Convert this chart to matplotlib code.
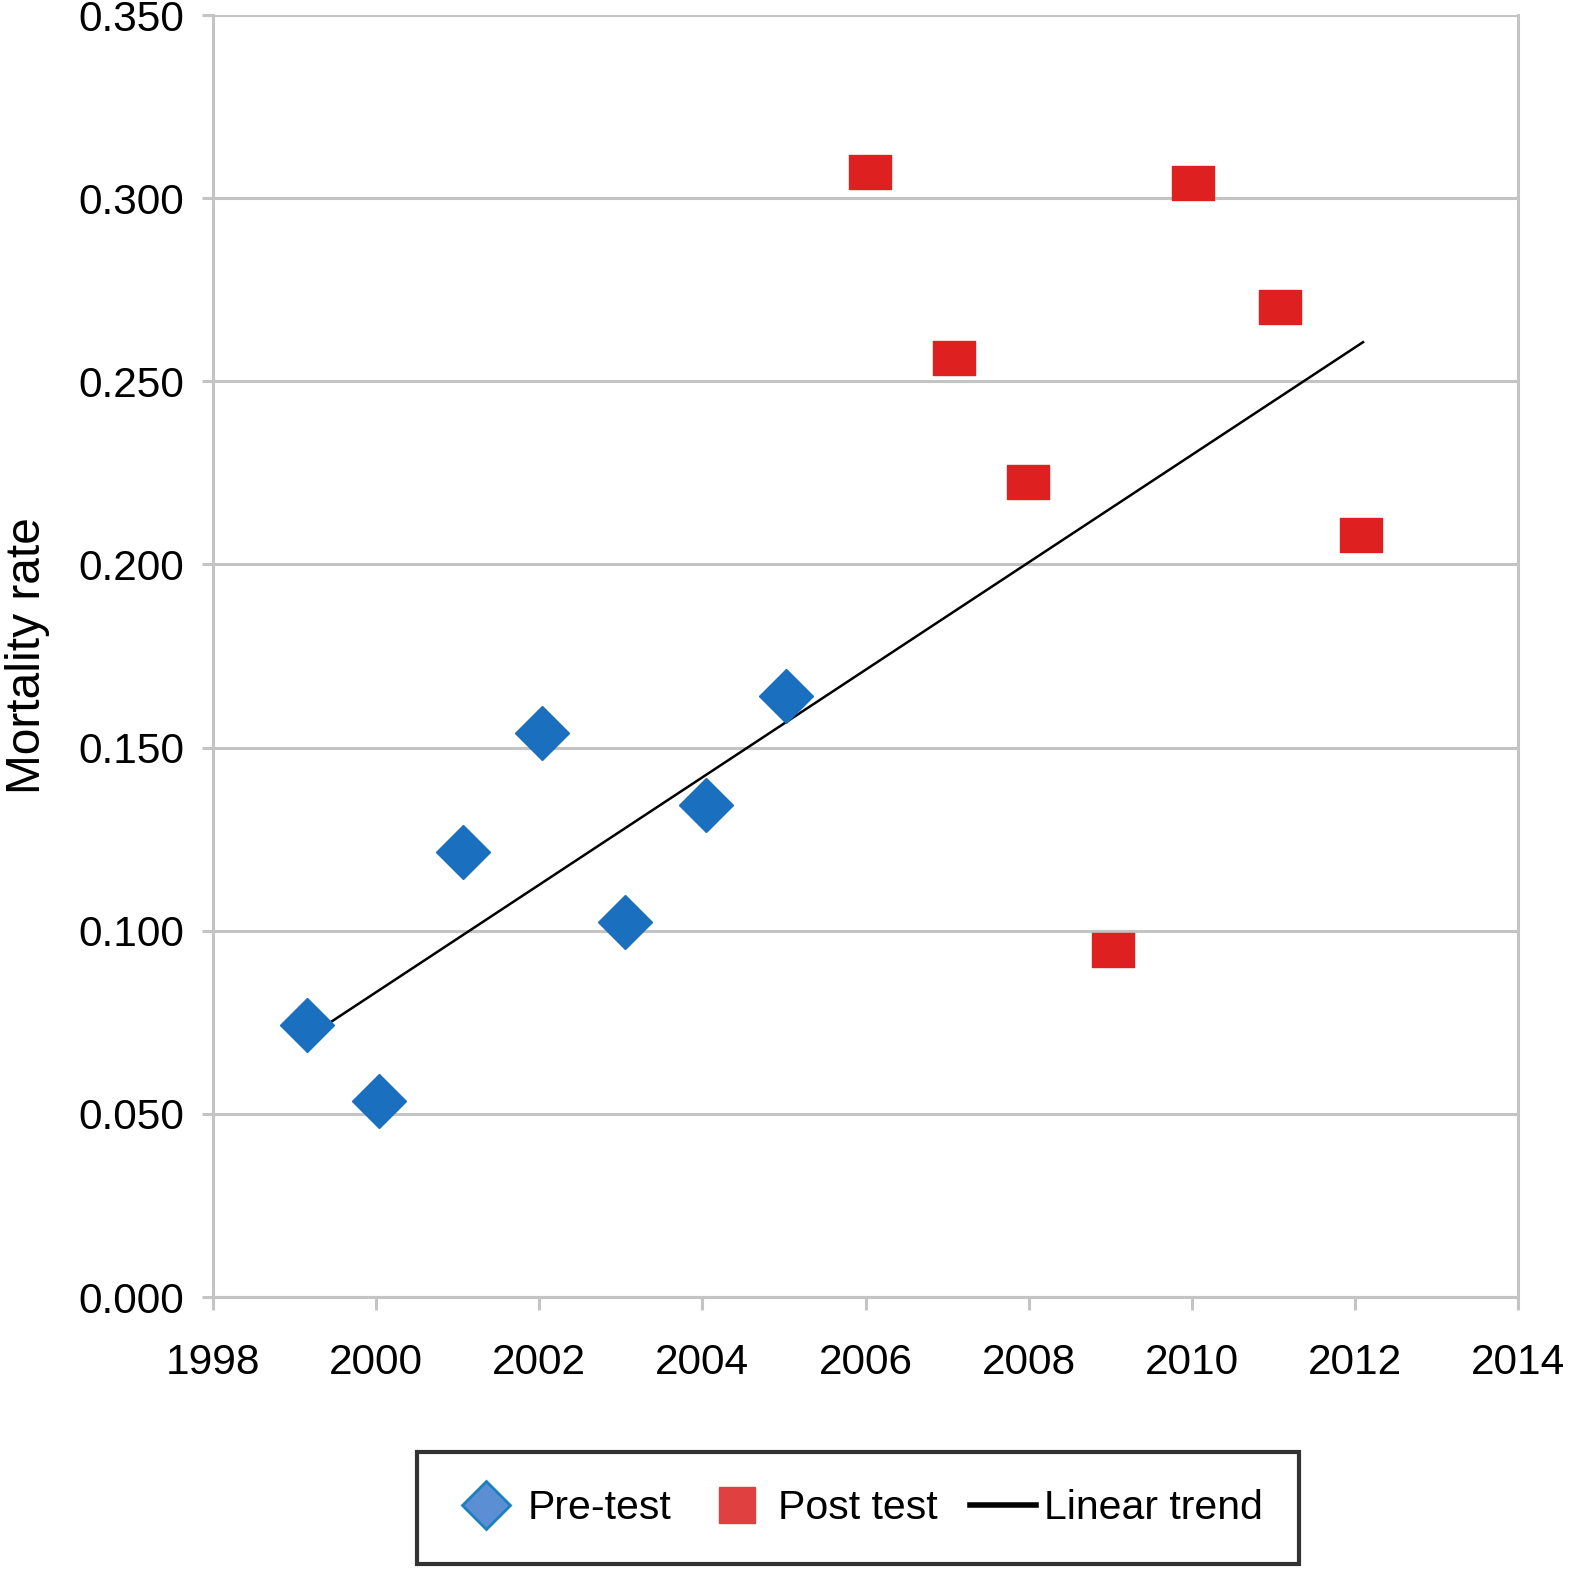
import matplotlib.pyplot as plt
import numpy as np
from matplotlib.lines import Line2D
from matplotlib.path import Path

plt.rcParams['font.family'] = ['Liberation Sans', 'DejaVu Sans']

# Data
pre_years = [1999.15, 2000.03, 2001.06, 2002.03, 2003.05, 2004.05, 2005.03]
pre_rate = [0.0743, 0.0535, 0.1215, 0.1540, 0.1024, 0.1343, 0.1640]

post_years = [2006.05, 2007.08, 2007.99, 2009.04, 2010.02, 2011.08, 2012.07]
post_rate = [0.3071, 0.2563, 0.2225, 0.0947, 0.3041, 0.2703, 0.2080]

trend_years = [1999.35, 2012.10]
trend_rate = [0.0737, 0.2607]

x_ticks = [1998, 2000, 2002, 2004, 2006, 2008, 2010, 2012, 2014]
y_ticks = [0.0, 0.05, 0.10, 0.15, 0.20, 0.25, 0.30, 0.35]

grid_col = '#c4c4c4'

fig = plt.figure(figsize=(15.69, 15.85), dpi=100)
ax = fig.add_axes([0.1358, 0.1817, 0.8317, 0.8088])

# wide rectangle marker for post test
rect = Path([(-0.6, -0.5), (0.6, -0.5), (0.6, 0.5), (-0.6, 0.5), (-0.6, -0.5)],
            [Path.MOVETO, Path.LINETO, Path.LINETO, Path.LINETO, Path.CLOSEPOLY])

ax.plot(trend_years, trend_rate, color='black', linewidth=1.8, zorder=3)
ax.plot(pre_years, pre_rate, linestyle='none', marker='D', markersize=27,
        color='#1a70bf', markeredgecolor='#1a70bf', zorder=4)
ax.plot(post_years, post_rate, linestyle='none', marker=rect, markersize=30,
        color='#df2020', markeredgecolor='#df2020', zorder=4)

ax.set_xlim(1998, 2014)
ax.set_ylim(0, 0.35)
ax.set_xticks(x_ticks)
ax.set_yticks(y_ticks)
ax.set_yticklabels([f'{v:.3f}' for v in y_ticks])

ax.grid(axis='y', color=grid_col, linewidth=2.2)
ax.set_axisbelow(True)
ax.spines['top'].set_visible(False)
for side in ['left', 'right', 'bottom']:
    ax.spines[side].set_color(grid_col)
    ax.spines[side].set_linewidth(2.2)

ax.tick_params(axis='both', colors=grid_col, width=2.2,
               labelcolor='black', labelsize=30.5)
ax.tick_params(axis='x', length=9, pad=24)
ax.tick_params(axis='y', length=8, pad=13)

ax.set_ylabel('Mortality rate', fontsize=34.5, labelpad=20)

handles = [
    Line2D([], [], linestyle='none', marker='D', markersize=24,
           markerfacecolor='#5b8ed2', markeredgecolor='#1a80c0', markeredgewidth=2),
    Line2D([], [], linestyle='none', marker='s', markersize=26,
           markerfacecolor='#e04040', markeredgecolor='#e04040'),
    Line2D([], [], color='black', linewidth=4),
]
leg = fig.legend(handles, ['Pre-test', 'Post test', 'Linear trend'],
                 loc='center', bbox_to_anchor=(0.5469, 0.0484), ncol=3,
                 fontsize=29.5, frameon=True, fancybox=False, edgecolor='black',
                 handlelength=1.6, handletextpad=0.2, columnspacing=0.8,
                 borderpad=0.9)
leg.get_frame().set_linewidth(3)

fig.savefig('out.png', dpi=100)
